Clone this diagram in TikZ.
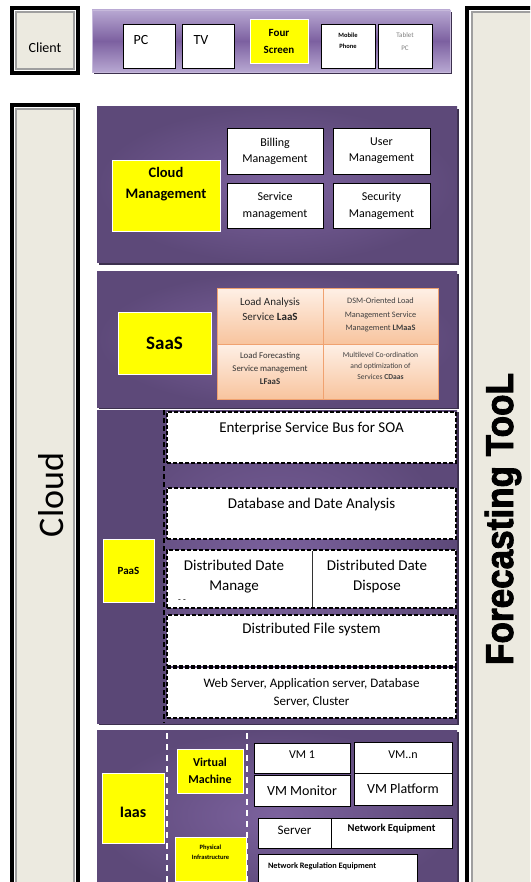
\documentclass[tikz,border=0pt]{standalone}
\usepackage{fontspec}
\setmainfont{Carlito}
\newfontfamily\toolfont[BoldFeatures={FakeBold=2.2,FakeStretch=0.9}]{Liberation Sans}
\usetikzlibrary{shadows}

\definecolor{beige}{RGB}{236,234,224}
\definecolor{pdark}{RGB}{93,73,121}
\definecolor{pmid}{RGB}{124,98,158}
\definecolor{pstrip}{RGB}{90,71,118}
\definecolor{pshadow}{RGB}{60,48,78}
\definecolor{cbl}{RGB}{184,168,210}
\definecolor{cbm}{RGB}{124,96,160}
\definecolor{peachtop}{RGB}{254,240,230}
\definecolor{peachbot}{RGB}{248,196,158}
\definecolor{peachline}{RGB}{240,162,112}
\definecolor{ylw}{RGB}{255,255,0}

\newcommand\fsz[2]{\fontsize{#1}{#2}\selectfont}

\begin{document}
\begin{tikzpicture}[x=1pt,y=-1pt,
  every node/.style={inner sep=0pt, outer sep=0pt},
  frameout/.style={draw=black, line width=4pt, fill=white, anchor=north west},
  framein/.style={draw=gray!75, line width=1.2pt, fill=beige, anchor=north west},
  panel/.style={anchor=north west, inner color=pmid, outer color=pdark,
    drop shadow={shadow xshift=2pt, shadow yshift=-2pt, fill=pshadow, opacity=1}},
  cbarstyle/.style={anchor=north west, top color=cbl, bottom color=cbl, middle color=cbm,
    draw=cbl!80!white, line width=0.6pt,
    drop shadow={shadow xshift=2pt, shadow yshift=-2pt, fill=pshadow, opacity=1}},
  wbox/.style={anchor=north west, draw=black, line width=0.9pt, fill=white, align=center},
  sbox/.style={wbox, drop shadow={shadow xshift=1.3pt, shadow yshift=-1.3pt, fill=black, opacity=0.75}},
  ybox/.style={anchor=north west, draw=white, line width=0.8pt, fill=ylw, align=center},
  dbox/.style={anchor=north west, draw=black, dashed, dash pattern=on 4pt off 2pt,
    line width=1.3pt, fill=white, align=center},
  cell/.style={anchor=north west, draw=peachline, line width=0.7pt,
    top color=peachtop, bottom color=peachbot},
  txt/.style={align=center, anchor=north},
]
\useasboundingbox (0,0) rectangle (530,882);
\clip (0,0) rectangle (530,882);
\fill[white] (0,0) rectangle (530,882);

% ---------- side frames ----------
\node[frameout, minimum width=66, minimum height=65] (clientO) at (12,8) {};
\node[framein, minimum width=58, minimum height=57] (client) at (16,12) {};
\node[font=\fsz{14}{16}] (clientT) at (45,48) {Client};

\node[frameout, minimum width=66, minimum height=800] (cloudO) at (12,105) {};
\node[framein, minimum width=58, minimum height=800] (cloud) at (16,109) {};
\node[rotate=90, font=\fsz{36}{40}] (cloudT) at (51,495) {Cloud};

\node[frameout, minimum width=80, minimum height=900] (toolO) at (467,8) {};
\node[framein, minimum width=80, minimum height=900] (tool) at (472,12) {};
\node[rotate=90, anchor=base, font=\toolfont\bfseries\fsz{39}{44}] (toolT) at (513,519) {Forecasting TooL};

% ---------- client bar ----------
\node[cbarstyle, minimum width=358, minimum height=62] (cbar) at (92,10) {};
\node[wbox, minimum width=52, minimum height=44] (pc) at (123,24) {};
\node[font=\fsz{14}{16}] (pcT) at (141,40) {PC};
\node[wbox, minimum width=52, minimum height=44] (tv) at (182,24) {};
\node[font=\fsz{14}{16}] (tvT) at (201,40) {TV};
\node[ybox, minimum width=58, minimum height=44, font=\bfseries\fsz{11}{17}] (four) at (250,19) {Four\\Screen};
\node[wbox, minimum width=54, minimum height=44] (mob) at (321,24) {};
\node[txt, font=\bfseries\fsz{6.5}{10.5}] (mobT) at ([yshift=-9pt]mob.north) {Mobile\\Phone};
\node[wbox, minimum width=54, minimum height=44] (tab) at (378,24) {};
\node[txt, font=\fsz{7}{13}, text=gray] (tabT) at ([yshift=-9pt]tab.north) {Tablet\\PC};

% ---------- cloud management ----------
\node[panel, minimum width=360, minimum height=156] (cm) at (97,107) {};
\node[ybox, minimum width=108, minimum height=71] (cmY) at (112,160) {};
\node[txt, font=\bfseries\fsz{14.5}{21}] (cmT) at ([yshift=-7pt]cmY.north) {Cloud\\Management};
\node[sbox, minimum width=96, minimum height=46, font=\fsz{12}{16}] (bill) at (227,128) {Billing\\Management};
\node[sbox, minimum width=97, minimum height=46, font=\fsz{12}{16}] (user) at (333,128) {User\\Management};
\node[sbox, minimum width=96, minimum height=45, font=\fsz{12}{17}] (serv) at (227,183) {Service\\management};
\node[sbox, minimum width=97, minimum height=45, font=\fsz{12}{17}] (secu) at (333,183) {Security\\Management};

% ---------- SaaS ----------
\node[panel, minimum width=360, minimum height=135] (saas) at (97,272) {};
\node[ybox, minimum width=93, minimum height=62, font=\bfseries\fsz{19}{22}] (saasY) at (118,312) {SaaS};
\node[cell, minimum width=106, minimum height=56] (laas) at (217,288) {};
\node[cell, minimum width=115, minimum height=56] (lmaas) at (323,288) {};
\node[cell, minimum width=106, minimum height=55] (lfaas) at (217,344) {};
\node[cell, minimum width=115, minimum height=55] (cdaas) at (323,344) {};
\node[txt, font=\fsz{11}{15}, text=black!85] (laasT) at ([yshift=-10pt]laas.north) {Load Analysis\\Service \textbf{LaaS}};
\node[txt, font=\fsz{8.3}{13.5}, text=black!75] (lmaasT) at ([yshift=-10pt]lmaas.north) {DSM-Oriented Load\\Management Service\\Management \textbf{LMaaS}};
\node[txt, font=\fsz{8.8}{13}, text=black!80] (lfaasT) at ([yshift=-8pt]lfaas.north) {Load Forecasting\\Service management\\\textbf{LFaaS}};
\node[txt, font=\fsz{7.6}{11}, text=black!75] (cdaasT) at ([yshift=-8pt]cdaas.north) {Multilevel Co-ordination\\and optimization of\\Services \textbf{CDaas}};

% ---------- PaaS ----------
\node[panel, minimum width=360, minimum height=313] (paas) at (97,410) {};
\fill[pstrip] (paas.north west) rectangle (164,723);
\draw[black, dashed, dash pattern=on 5pt off 3pt, line width=1.3pt] (164,410) -- (164,723);
\node[ybox, minimum width=51, minimum height=63, font=\bfseries\fsz{11}{13}] (paasY) at (103,539) {PaaS};
\node[dbox, minimum width=289, minimum height=51] (esb) at (167,412) {};
\node[txt, font=\fsz{15}{18}] (esbT) at ([yshift=-10pt]esb.north) {Enterprise Service Bus for SOA};
\node[dbox, minimum width=289, minimum height=51] (dda) at (167,488) {};
\node[txt, font=\fsz{15}{18}] (ddaT) at ([yshift=-10pt]dda.north) {Database and Date Analysis};
\node[dbox, minimum width=289, minimum height=58] (dd) at (167,550) {};
\draw[black!80, line width=0.9pt] (312,551) -- (312,607);
\node[txt, font=\fsz{15}{20}] (ddmT) at (234,560) {Distributed Date\\Manage};
\node[txt, font=\fsz{15}{20}] (ddpT) at (377,560) {Distributed Date\\Dispose};
\node[font=\fsz{9}{10}] (ddmark) at (182,601) {- -};
\node[dbox, minimum width=289, minimum height=51] (dfs) at (167,615) {};
\node[txt, font=\fsz{15}{18}] (dfsT) at ([yshift=-8pt]dfs.north) {Distributed File system};
\node[dbox, minimum width=289, minimum height=50, font=\fsz{13}{18}] (web) at (167,668) {Web Server, Application server, Database\\Server, Cluster};

% ---------- IaaS ----------
\node[panel, minimum width=360, minimum height=170] (iaas) at (97,730) {};
\draw[white, dashed, dash pattern=on 6pt off 5pt, line width=2pt] (167,733) -- (167,882);
\draw[white, dashed, dash pattern=on 6pt off 5pt, line width=2pt] (247,733) -- (247,882);
\node[ybox, minimum width=62, minimum height=70] (iaasY) at (102,773) {};
\node[font=\bfseries\fsz{16}{18}] (iaasT) at (133,812) {Iaas};
\node[ybox, minimum width=66, minimum height=44, font=\bfseries\fsz{12}{17}] (vmY) at (177,749) {Virtual\\Machine};
\node[ybox, minimum width=71, minimum height=44] (piY) at (175,837) {};
\node[txt, font=\bfseries\fsz{6.5}{10}] (piT) at ([yshift=-8pt]piY.north) {Physical\\Infrastructure};
\node[wbox, minimum width=96, minimum height=30] (vm1) at (254,743) {};
\node[font=\fsz{12}{14}] (vm1T) at (302,755) {VM 1};
\node[wbox, minimum width=98, minimum height=31] (vmn) at (354,742) {};
\node[font=\fsz{12}{14}] (vmnT) at (403,755) {VM..n};
\node[wbox, minimum width=96, minimum height=31, font=\fsz{14}{16}] (vmmon) at (254,775) {VM Monitor};
\node[wbox, minimum width=98, minimum height=32, font=\fsz{14}{16}] (vmplat) at (354,773) {VM Platform};
\node[wbox, minimum width=73, minimum height=30] (server) at (258,818) {};
\node[font=\fsz{13}{15}] (serverT) at (294.5,830) {Server};
\node[wbox, minimum width=121, minimum height=30] (neteq) at (331,818) {};
\node[font=\bfseries\fsz{10.5}{12}] (neteqT) at (391.5,829) {Network Equipment};
\node[wbox, minimum width=159, minimum height=40] (netreg) at (258,854) {};
\node[anchor=west, font=\bfseries\fsz{8.3}{10}] (netregT) at (268,866) {Network Regulation Equipment};
\end{tikzpicture}
\end{document}
